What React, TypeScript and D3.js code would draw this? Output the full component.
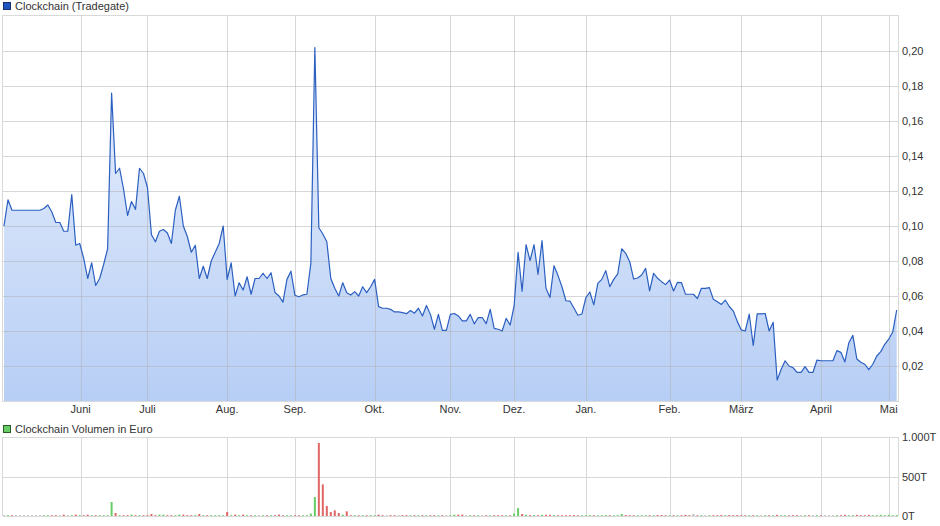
import React from "react";
import * as d3 from "d3";

const priceSeriesName = "Clockchain (Tradegate)";
const volumeSeriesName = "Clockchain Volumen in Euro";

const prices: number[] = [
  0.100, 0.115, 0.109, 0.109, 0.109, 0.109, 0.109, 0.109, 0.109, 0.109,
  0.110, 0.112, 0.108, 0.102, 0.102, 0.097, 0.097, 0.118, 0.089, 0.090,
  0.0815, 0.070, 0.079, 0.066, 0.070, 0.078, 0.087, 0.176, 0.130, 0.133,
  0.121, 0.106, 0.114, 0.1095, 0.133, 0.130, 0.122, 0.095, 0.091, 0.097,
  0.098, 0.096, 0.090, 0.109, 0.117, 0.100, 0.094, 0.085, 0.089, 0.070,
  0.077, 0.070, 0.080, 0.085, 0.090, 0.100, 0.0695, 0.079, 0.060, 0.0676,
  0.0634, 0.071, 0.061, 0.070, 0.070, 0.073, 0.070, 0.0733, 0.062, 0.060,
  0.0565, 0.0695, 0.0742, 0.0604, 0.0596, 0.0606, 0.061, 0.0787, 0.202, 0.099,
  0.0954, 0.091, 0.070, 0.0644, 0.060, 0.0676, 0.0619, 0.0606, 0.0625, 0.060,
  0.0653, 0.0619, 0.0653, 0.0695, 0.0539, 0.053, 0.053, 0.0524, 0.0509, 0.0509,
  0.0505, 0.0499, 0.0517, 0.0502, 0.053, 0.0486, 0.0546, 0.0495, 0.041, 0.0495,
  0.0404, 0.0404, 0.0495, 0.050, 0.0486, 0.0458, 0.0458, 0.0495, 0.0441, 0.0477,
  0.0477, 0.0442, 0.0524, 0.0415, 0.041, 0.040, 0.0472, 0.0434, 0.0544, 0.085,
  0.0627, 0.0893, 0.0802, 0.0893, 0.0724, 0.0916, 0.0644, 0.0592, 0.0773, 0.0718,
  0.0653, 0.0573, 0.0571, 0.0531, 0.049, 0.0497, 0.059, 0.0623, 0.0549, 0.0672,
  0.0695, 0.0745, 0.0653, 0.0695, 0.0726, 0.087, 0.0844, 0.0796, 0.0697, 0.0703,
  0.072, 0.0758, 0.0629, 0.073, 0.0701, 0.0682, 0.0665, 0.0691, 0.0629, 0.0678,
  0.0676, 0.0611, 0.061, 0.061, 0.0585, 0.0644, 0.0644, 0.0648, 0.0581, 0.0567,
  0.0552, 0.0576, 0.054, 0.0514, 0.0455, 0.0406, 0.040, 0.0497, 0.0317, 0.0498,
  0.0498, 0.050, 0.040, 0.045, 0.012, 0.018, 0.023, 0.020, 0.019, 0.0164,
  0.0164, 0.0196, 0.0164, 0.0164, 0.0234, 0.023, 0.023, 0.023, 0.023, 0.0288,
  0.0278, 0.0223, 0.0333, 0.0375, 0.024, 0.0221, 0.021, 0.0179, 0.021, 0.0257,
  0.0282, 0.0324, 0.0353, 0.0394, 0.052,
];

// Volume in thousands of Euro (T)
const volumes: number[] = [
  10, 10, 10, 10, 10, 10, 10, 10, 10, 10,
  10, 10, 10, 10, 10, 17, 10, 10, 17, 10,
  10, 17, 10, 10, 10, 10, 10, 177, 38, 10,
  10, 10, 17, 10, 10, 10, 10, 25, 10, 17,
  17, 10, 10, 10, 17, 17, 10, 10, 10, 25,
  10, 10, 10, 10, 10, 10, 50, 10, 17, 10,
  17, 10, 10, 10, 10, 10, 10, 10, 10, 17,
  10, 10, 10, 10, 10, 10, 10, 30, 240, 924,
  400, 127, 50, 72, 38, 17, 59, 10, 10, 10,
  10, 10, 10, 10, 17, 10, 10, 10, 10, 10,
  10, 10, 10, 10, 10, 10, 10, 10, 10, 10,
  10, 10, 10, 17, 17, 17, 10, 10, 10, 10,
  10, 10, 10, 10, 10, 10, 10, 10, 30, 100,
  25, 15, 12, 12, 10, 15, 15, 15, 12, 10,
  10, 10, 10, 12, 10, 10, 10, 12, 10, 10,
  10, 12, 10, 10, 10, 25, 12, 10, 10, 10,
  10, 10, 10, 10, 12, 12, 10, 10, 10, 10,
  10, 15, 10, 25, 10, 10, 10, 10, 10, 10,
  12, 10, 12, 10, 12, 10, 10, 10, 10, 10,
  10, 10, 10, 10, 15, 10, 10, 10, 10, 10,
  10, 10, 10, 10, 10, 10, 10, 10, 10, 10,
  10, 15, 10, 10, 15, 10, 10, 15, 10, 10,
  15, 10, 15, 10, 12,
];

const monthLabels = ["Juni", "Juli", "Aug.", "Sep.", "Okt.", "Nov.", "Dez.", "Jan.", "Feb.", "März", "April", "Mai"];
const monthStartIdx = [19.25, 36, 56, 73, 93, 112, 128, 146, 167, 185, 205, 222];
const priceTicks = [0.02, 0.04, 0.06, 0.08, 0.1, 0.12, 0.14, 0.16, 0.18, 0.2];
const volumeTicks = [0, 500, 1000];
const volumeTickLabels = ["0T", "500T", "1.000T"];

const FONT = "'Liberation Sans', Arial, Helvetica, sans-serif";
const GRID = "#d9d9d9";
const TEXT = "#333333";

export default function App() {
  const W = 940, H = 526;
  const pL = 3, pR = 898, pT = 16, pB = 401;
  const vT = 437, vB = 516;

  const x = d3.scaleLinear().domain([0, prices.length - 1]).range([4, 896.7]);
  const y = d3.scaleLinear().domain([0, 0.22]).range([pB, pT]);
  const yv = d3.scaleLinear().domain([0, 1000]).range([vB, vT]);

  const area = d3.area<number>().x((_, i) => x(i)).y0(y(0)).y1((d) => y(d));
  const line = d3.line<number>().x((_, i) => x(i)).y((d) => y(d));
  const fmt = (v: number) => d3.format(".2f")(v).replace(".", ",");
  const crisp = (v: number) => Math.round(v) + 0.5;

  const barColor = (i: number) => {
    if (i === 0) return "#bbbbbb";
    const d = prices[i] - prices[i - 1];
    if (d > 0) return "#66cc66";
    if (d < 0) return "#e06666";
    return "#bbbbbb";
  };

  return (
    <svg
      width={W}
      height={H}
      style={{ position: "fixed", left: 0, top: 0, display: "block", background: "#fff" }}
      fontFamily={FONT}
    >
      <defs>
        <linearGradient id="areaGrad" gradientUnits="userSpaceOnUse" x1={0} y1={pT} x2={0} y2={pB}>
          <stop offset="0%" stopColor="#eef4fe" />
          <stop offset="100%" stopColor="#b7cef5" />
        </linearGradient>
      </defs>

      {/* Legend 1 */}
      <rect x={3.5} y={2.5} width={7} height={7} fill="#1f55c0" stroke="#1a2f6a" strokeWidth={1} />
      <text x={15} y={10} fontSize={11} fill={TEXT}>{priceSeriesName}</text>

      {/* Price area */}
      <path d={area(prices) || ""} fill="url(#areaGrad)" />

      {/* Price grid */}
      <g>
        {priceTicks.map((t) => (
          <line key={"h" + t} x1={pL} x2={pR} y1={crisp(y(t))} y2={crisp(y(t))} stroke="#b0b0b0" strokeOpacity={0.5} />
        ))}
        {monthStartIdx.map((m, k) => (
          <line key={"v" + k} x1={crisp(x(m))} x2={crisp(x(m))} y1={pT} y2={pB} stroke="#b0b0b0" strokeOpacity={0.5} />
        ))}
        <rect x={pL - 0.5} y={pT - 0.5} width={pR - pL + 1} height={pB - pT + 1} fill="none" stroke={GRID} />
      </g>

      <path d={line(prices) || ""} fill="none" stroke="#2b5fc0" strokeWidth={1.2} strokeLinejoin="round" />

      {/* Price axis labels */}
      {priceTicks.map((t) => (
        <text key={"yl" + t} x={902} y={y(t) + 4} fontSize={11} fill={TEXT}>{fmt(t)}</text>
      ))}
      {monthLabels.map((lab, k) => (
        <text key={"xl" + k} x={x(monthStartIdx[k])} y={413} fontSize={11} fill={TEXT} textAnchor="middle">{lab}</text>
      ))}

      {/* Legend 2 */}
      <rect x={3.5} y={425.5} width={7} height={7} fill="#66cc66" stroke="#2a5a2a" strokeWidth={1} />
      <text x={15} y={433} fontSize={11} fill={TEXT}>{volumeSeriesName}</text>

      {/* Volume grid */}
      <g>
        {volumeTicks.map((t) => (
          <line key={"vh" + t} x1={pL} x2={pR} y1={crisp(yv(t))} y2={crisp(yv(t))} stroke={GRID} />
        ))}
        {monthStartIdx.map((m, k) => (
          <line key={"vv" + k} x1={crisp(x(m))} x2={crisp(x(m))} y1={vT} y2={vB} stroke={GRID} />
        ))}
        <line x1={pL - 0.5} x2={pL - 0.5} y1={vT} y2={vB} stroke={GRID} />
        <line x1={pR + 0.5} x2={pR + 0.5} y1={vT} y2={vB} stroke={GRID} />
      </g>

      {/* Volume bars */}
      {volumes.map((v, i) => (
        <rect
          key={"b" + i}
          x={x(i) - 1}
          y={yv(v)}
          width={2}
          height={Math.max(0, yv(0) - yv(v))}
          fill={barColor(i)}
        />
      ))}

      {volumeTicks.map((t, k) => (
        <text key={"vl" + t} x={902} y={yv(t) + 4} fontSize={11} fill={TEXT}>{volumeTickLabels[k]}</text>
      ))}
    </svg>
  );
}
